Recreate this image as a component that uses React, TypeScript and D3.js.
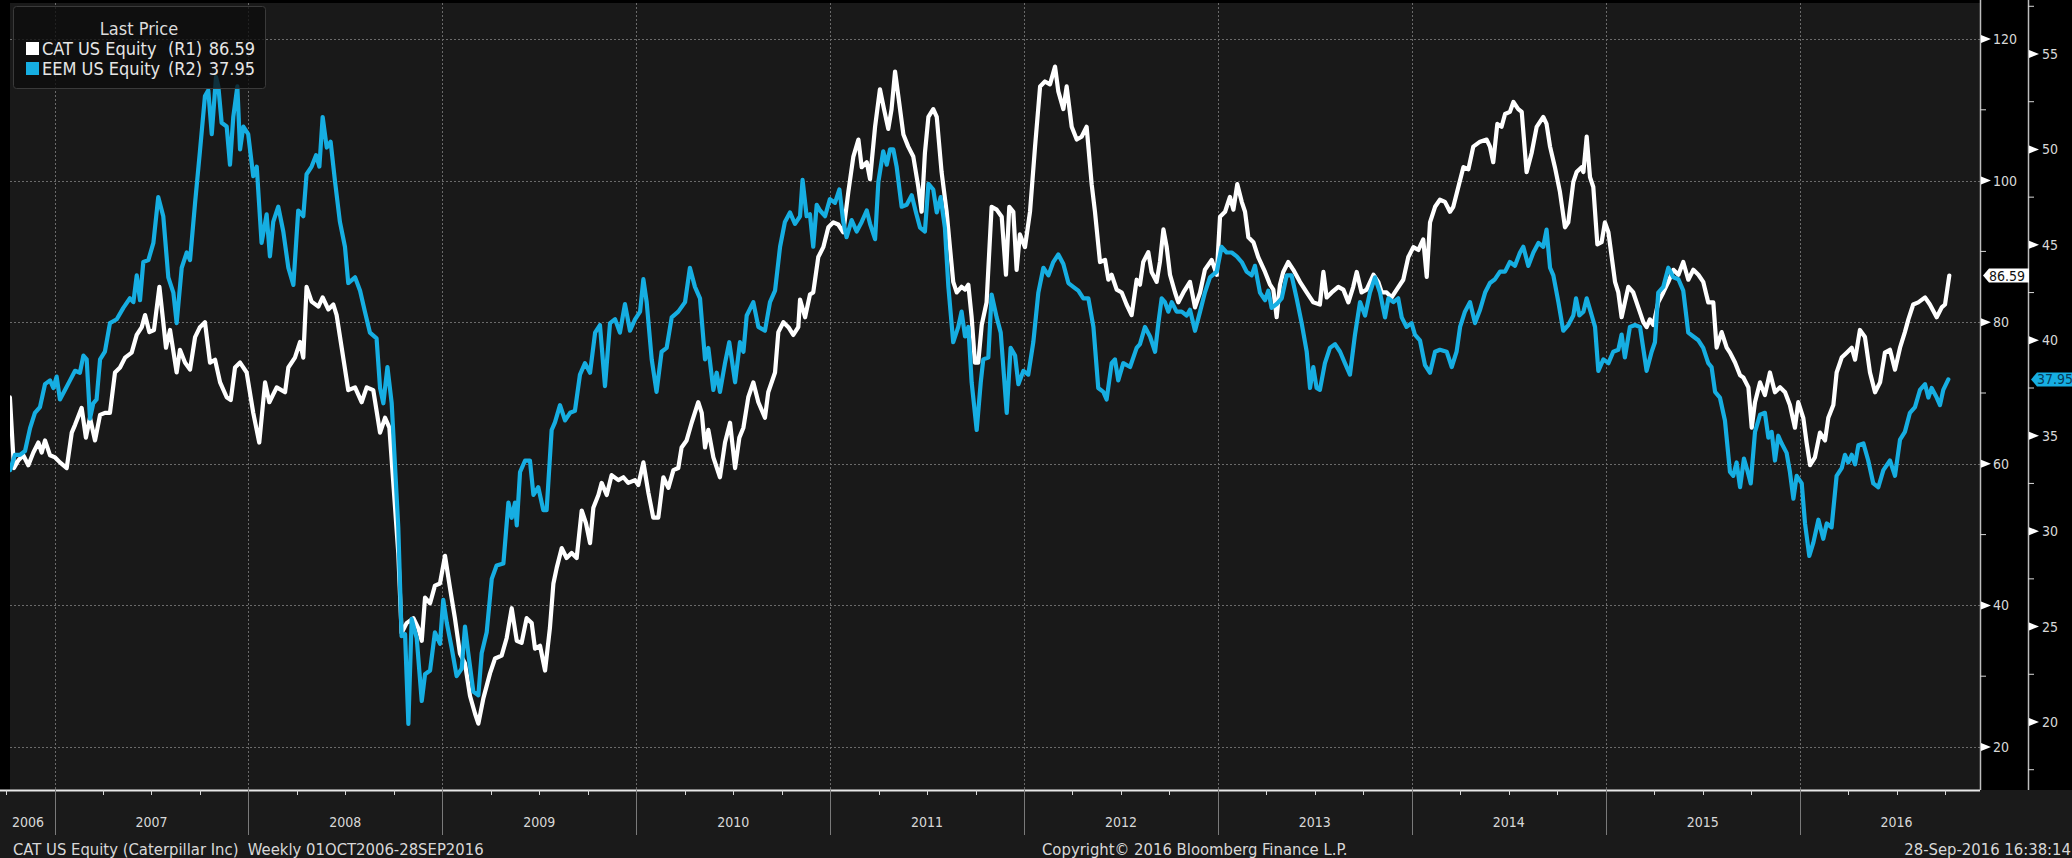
import React, { useEffect, useRef } from "react";
import * as d3 from "d3";

// weekly closes, [decimal year, price]
const catSeries: [number, number][] = [
  [2006.770, 69.4], [2006.791, 59.4], [2006.814, 60.5], [2006.839, 61.2], [2006.865, 59.8], [2006.891, 61.6],
  [2006.917, 63.0], [2006.934, 61.6], [2006.951, 63.3], [2006.977, 61.2], [2007.003, 60.9], [2007.028, 60.2],
  [2007.063, 59.4], [2007.089, 64.4], [2007.106, 65.5], [2007.140, 67.9], [2007.162, 63.7], [2007.183, 66.5],
  [2007.209, 63.3], [2007.235, 66.9], [2007.260, 67.2], [2007.286, 67.2], [2007.312, 72.9], [2007.338, 73.6],
  [2007.364, 75.0], [2007.398, 75.7], [2007.424, 78.2], [2007.450, 79.3], [2007.467, 81.0], [2007.489, 78.6],
  [2007.513, 78.9], [2007.541, 85.0], [2007.561, 80.0], [2007.575, 76.4], [2007.596, 78.9], [2007.630, 72.9],
  [2007.647, 76.1], [2007.673, 74.3], [2007.699, 73.3], [2007.725, 77.9], [2007.750, 79.3], [2007.776, 80.0],
  [2007.802, 74.3], [2007.828, 74.7], [2007.854, 71.5], [2007.888, 69.4], [2007.909, 69.0], [2007.931, 73.6],
  [2007.957, 74.3], [2007.991, 72.9], [2008.025, 67.2], [2008.056, 63.0], [2008.086, 71.5], [2008.108, 68.7],
  [2008.146, 70.8], [2008.189, 70.1], [2008.206, 73.6], [2008.240, 75.0], [2008.266, 77.2], [2008.283, 75.0],
  [2008.300, 85.0], [2008.326, 82.9], [2008.361, 82.2], [2008.383, 83.5], [2008.412, 81.8], [2008.438, 82.5],
  [2008.455, 81.0], [2008.481, 76.4], [2008.515, 70.4], [2008.550, 70.8], [2008.584, 68.7], [2008.610, 70.8],
  [2008.644, 70.4], [2008.679, 64.4], [2008.705, 66.5], [2008.727, 65.1], [2008.773, 47.4], [2008.790, 36.1],
  [2008.816, 37.5], [2008.851, 38.2], [2008.876, 36.8], [2008.894, 35.0], [2008.911, 41.1], [2008.937, 40.3],
  [2008.962, 42.8], [2008.988, 43.1], [2009.014, 47.0], [2009.040, 42.4], [2009.065, 38.2], [2009.091, 33.2],
  [2009.117, 31.8], [2009.143, 27.2], [2009.169, 24.7], [2009.186, 23.3], [2009.212, 26.9], [2009.246, 30.4],
  [2009.272, 32.5], [2009.306, 32.9], [2009.332, 35.4], [2009.358, 39.6], [2009.384, 35.0], [2009.409, 34.7],
  [2009.435, 38.2], [2009.461, 37.5], [2009.478, 33.9], [2009.504, 34.3], [2009.530, 30.8], [2009.555, 36.8],
  [2009.573, 43.1], [2009.590, 45.3], [2009.616, 48.1], [2009.641, 46.7], [2009.667, 47.4], [2009.693, 46.7],
  [2009.719, 53.4], [2009.741, 51.6], [2009.762, 48.8], [2009.779, 53.8], [2009.805, 55.6], [2009.822, 57.3],
  [2009.848, 55.6], [2009.873, 58.4], [2009.908, 57.7], [2009.934, 58.1], [2009.959, 57.3], [2009.994, 57.7],
  [2010.011, 57.0], [2010.037, 60.2], [2010.063, 55.9], [2010.088, 52.4], [2010.114, 52.4], [2010.140, 58.1],
  [2010.166, 56.6], [2010.192, 59.1], [2010.217, 59.4], [2010.234, 62.3], [2010.260, 63.3], [2010.286, 65.8],
  [2010.320, 68.7], [2010.338, 67.2], [2010.355, 62.3], [2010.372, 64.8], [2010.398, 60.9], [2010.432, 58.1],
  [2010.458, 63.0], [2010.484, 65.8], [2010.510, 59.4], [2010.532, 63.7], [2010.553, 65.1], [2010.578, 69.4],
  [2010.604, 71.5], [2010.630, 68.7], [2010.664, 66.5], [2010.681, 70.1], [2010.716, 72.9], [2010.733, 78.6],
  [2010.759, 80.0], [2010.785, 79.3], [2010.810, 78.2], [2010.836, 79.3], [2010.845, 83.2], [2010.871, 80.7],
  [2010.896, 83.9], [2010.913, 84.2], [2010.939, 89.2], [2010.965, 90.6], [2010.991, 93.4], [2011.017, 94.1],
  [2011.042, 93.8], [2011.068, 92.7], [2011.094, 98.4], [2011.120, 103.4], [2011.146, 105.8], [2011.163, 101.9],
  [2011.189, 102.6], [2011.206, 100.2], [2011.232, 107.6], [2011.257, 112.9], [2011.278, 110.1], [2011.300, 107.3],
  [2011.317, 110.1], [2011.335, 115.4], [2011.352, 111.9], [2011.378, 106.5], [2011.403, 104.8], [2011.429, 103.4],
  [2011.455, 99.1], [2011.472, 95.6], [2011.489, 103.9], [2011.507, 109.0], [2011.532, 110.1], [2011.550, 109.0],
  [2011.575, 101.2], [2011.601, 95.6], [2011.618, 90.6], [2011.635, 85.7], [2011.653, 84.2], [2011.678, 85.0],
  [2011.696, 84.6], [2011.713, 85.3], [2011.730, 80.7], [2011.747, 74.3], [2011.764, 74.3], [2011.782, 79.6],
  [2011.807, 82.8], [2011.833, 96.3], [2011.859, 95.9], [2011.885, 94.9], [2011.907, 86.7], [2011.924, 96.3],
  [2011.945, 95.6], [2011.962, 87.4], [2011.979, 92.4], [2012.005, 90.6], [2012.031, 95.6], [2012.057, 104.8],
  [2012.083, 113.3], [2012.108, 114.0], [2012.134, 113.6], [2012.160, 116.1], [2012.177, 112.6], [2012.203, 110.1],
  [2012.220, 113.3], [2012.246, 107.6], [2012.272, 105.8], [2012.297, 106.2], [2012.323, 107.6], [2012.349, 99.5],
  [2012.366, 95.6], [2012.392, 88.5], [2012.418, 88.8], [2012.435, 86.0], [2012.452, 86.7], [2012.478, 84.6],
  [2012.504, 84.2], [2012.529, 82.5], [2012.555, 81.0], [2012.581, 86.0], [2012.598, 85.3], [2012.615, 88.5],
  [2012.641, 89.9], [2012.658, 87.1], [2012.684, 85.7], [2012.701, 88.5], [2012.719, 93.1], [2012.736, 90.6],
  [2012.753, 86.7], [2012.779, 84.2], [2012.796, 82.8], [2012.822, 84.2], [2012.856, 85.7], [2012.882, 82.1],
  [2012.908, 84.2], [2012.933, 87.4], [2012.968, 88.8], [2012.994, 86.7], [2013.011, 94.9], [2013.037, 95.6],
  [2013.062, 97.7], [2013.080, 95.9], [2013.100, 99.5], [2013.123, 97.0], [2013.140, 95.6], [2013.157, 92.0],
  [2013.183, 91.3], [2013.208, 89.2], [2013.243, 87.1], [2013.269, 85.3], [2013.286, 84.6], [2013.303, 80.7],
  [2013.320, 85.3], [2013.337, 87.1], [2013.363, 88.5], [2013.389, 87.4], [2013.423, 85.7], [2013.458, 84.2],
  [2013.492, 82.8], [2013.526, 82.5], [2013.544, 87.1], [2013.561, 83.5], [2013.587, 84.2], [2013.621, 85.0],
  [2013.647, 84.6], [2013.673, 82.8], [2013.698, 85.0], [2013.716, 87.1], [2013.741, 84.2], [2013.767, 84.6],
  [2013.802, 86.7], [2013.827, 85.7], [2013.845, 84.2], [2013.870, 84.2], [2013.896, 83.5], [2013.922, 84.6],
  [2013.956, 86.0], [2013.982, 89.2], [2014.008, 90.6], [2014.034, 90.2], [2014.059, 91.7], [2014.077, 86.4],
  [2014.094, 94.1], [2014.120, 96.3], [2014.145, 97.3], [2014.171, 97.0], [2014.197, 95.6], [2014.214, 96.3],
  [2014.240, 99.1], [2014.266, 101.9], [2014.292, 101.6], [2014.317, 104.8], [2014.352, 105.5], [2014.386, 105.8],
  [2014.403, 104.8], [2014.420, 102.6], [2014.441, 108.0], [2014.463, 107.6], [2014.481, 109.4], [2014.506, 109.7],
  [2014.524, 111.1], [2014.549, 110.1], [2014.567, 109.7], [2014.592, 101.2], [2014.618, 103.9], [2014.644, 107.6],
  [2014.661, 108.3], [2014.678, 109.0], [2014.695, 108.0], [2014.713, 104.8], [2014.738, 101.9], [2014.764, 98.4],
  [2014.790, 93.4], [2014.807, 94.1], [2014.833, 99.8], [2014.850, 101.2], [2014.876, 101.9], [2014.885, 101.2],
  [2014.902, 106.2], [2014.919, 100.5], [2014.936, 99.1], [2014.957, 91.0], [2014.979, 91.3], [2014.996, 94.1],
  [2015.014, 92.7], [2015.031, 89.2], [2015.048, 85.7], [2015.065, 84.2], [2015.082, 80.7], [2015.099, 82.8],
  [2015.117, 85.0], [2015.142, 84.2], [2015.168, 82.1], [2015.194, 80.0], [2015.211, 79.3], [2015.228, 80.4],
  [2015.246, 79.6], [2015.271, 82.8], [2015.297, 84.2], [2015.323, 85.7], [2015.349, 87.4], [2015.375, 86.7],
  [2015.400, 88.5], [2015.426, 86.0], [2015.452, 87.4], [2015.478, 86.7], [2015.503, 85.7], [2015.529, 82.8],
  [2015.555, 82.8], [2015.572, 76.4], [2015.598, 78.6], [2015.624, 76.4], [2015.641, 75.7], [2015.667, 74.3],
  [2015.693, 72.5], [2015.710, 72.2], [2015.736, 70.8], [2015.753, 65.1], [2015.770, 68.7], [2015.796, 71.5],
  [2015.821, 69.7], [2015.847, 72.9], [2015.873, 70.1], [2015.899, 70.8], [2015.925, 70.1], [2015.950, 68.3],
  [2015.976, 65.1], [2015.993, 68.7], [2016.019, 66.5], [2016.036, 63.0], [2016.054, 59.8], [2016.079, 60.9],
  [2016.105, 64.4], [2016.131, 63.3], [2016.148, 66.5], [2016.174, 68.3], [2016.191, 72.9], [2016.217, 75.0],
  [2016.243, 75.7], [2016.269, 76.4], [2016.286, 74.7], [2016.311, 78.9], [2016.337, 77.9], [2016.363, 72.9],
  [2016.389, 70.1], [2016.415, 71.5], [2016.440, 75.7], [2016.466, 76.1], [2016.492, 73.3], [2016.518, 76.4],
  [2016.543, 78.6], [2016.561, 80.4], [2016.586, 82.5], [2016.612, 82.8], [2016.647, 83.5], [2016.672, 82.5],
  [2016.707, 80.7], [2016.733, 82.1], [2016.750, 82.5], [2016.772, 86.59],
];

const eemSeries: [number, number][] = [
  [2006.771, 33.2], [2006.796, 34.0], [2006.822, 34.0], [2006.848, 34.2], [2006.874, 35.4], [2006.899, 36.2],
  [2006.925, 36.5], [2006.951, 37.7], [2006.977, 37.9], [2006.994, 37.5], [2007.011, 38.1], [2007.028, 36.9],
  [2007.054, 37.4], [2007.080, 37.9], [2007.106, 38.4], [2007.131, 38.3], [2007.149, 39.2], [2007.166, 39.0],
  [2007.183, 35.9], [2007.200, 36.7], [2007.217, 36.9], [2007.235, 39.0], [2007.260, 39.4], [2007.286, 40.9],
  [2007.321, 41.1], [2007.355, 41.7], [2007.389, 42.2], [2007.407, 42.0], [2007.424, 43.4], [2007.441, 42.1],
  [2007.458, 44.1], [2007.484, 44.2], [2007.510, 45.1], [2007.535, 47.5], [2007.561, 46.5], [2007.587, 43.3],
  [2007.613, 42.5], [2007.630, 40.9], [2007.656, 43.8], [2007.682, 44.6], [2007.699, 44.2], [2007.725, 47.2],
  [2007.750, 49.9], [2007.776, 52.8], [2007.793, 53.1], [2007.811, 50.8], [2007.833, 53.8], [2007.845, 53.3],
  [2007.862, 51.4], [2007.888, 51.2], [2007.905, 49.2], [2007.922, 51.7], [2007.943, 53.3], [2007.957, 50.0],
  [2007.974, 51.2], [2007.999, 50.8], [2008.025, 48.6], [2008.043, 49.1], [2008.068, 45.1], [2008.094, 46.6],
  [2008.111, 44.4], [2008.128, 46.2], [2008.154, 47.0], [2008.180, 45.7], [2008.206, 43.8], [2008.232, 42.9],
  [2008.257, 46.8], [2008.283, 46.5], [2008.300, 48.7], [2008.326, 49.1], [2008.349, 49.7], [2008.366, 49.1],
  [2008.383, 51.7], [2008.404, 50.1], [2008.424, 50.4], [2008.447, 48.3], [2008.472, 46.2], [2008.498, 44.9],
  [2008.515, 43.0], [2008.550, 43.3], [2008.576, 42.6], [2008.601, 41.5], [2008.627, 40.4], [2008.661, 40.1],
  [2008.679, 37.5], [2008.696, 36.7], [2008.717, 38.6], [2008.739, 36.7], [2008.773, 30.2], [2008.790, 24.5],
  [2008.808, 24.6], [2008.825, 19.9], [2008.842, 25.4], [2008.868, 24.4], [2008.894, 21.1], [2008.911, 22.5],
  [2008.937, 22.7], [2008.962, 24.7], [2008.988, 24.1], [2009.005, 26.4], [2009.023, 25.2], [2009.048, 23.9],
  [2009.074, 22.4], [2009.100, 22.8], [2009.117, 25.0], [2009.134, 23.6], [2009.160, 21.6], [2009.186, 21.4],
  [2009.203, 23.6], [2009.229, 24.7], [2009.255, 27.5], [2009.280, 28.2], [2009.315, 28.3], [2009.341, 31.5],
  [2009.358, 30.7], [2009.375, 31.5], [2009.384, 30.3], [2009.401, 33.1], [2009.427, 33.7], [2009.452, 33.7],
  [2009.470, 31.9], [2009.495, 32.3], [2009.521, 31.1], [2009.538, 31.1], [2009.564, 35.3], [2009.581, 35.7],
  [2009.607, 36.6], [2009.633, 35.8], [2009.659, 36.2], [2009.684, 36.3], [2009.710, 38.2], [2009.736, 38.8],
  [2009.762, 38.3], [2009.788, 40.4], [2009.813, 40.8], [2009.839, 37.6], [2009.865, 40.9], [2009.891, 41.1],
  [2009.916, 40.4], [2009.942, 41.9], [2009.968, 40.5], [2009.994, 41.1], [2010.020, 41.5], [2010.037, 43.2],
  [2010.054, 42.0], [2010.080, 39.0], [2010.105, 37.3], [2010.131, 39.4], [2010.157, 39.6], [2010.183, 41.2],
  [2010.217, 41.5], [2010.252, 42.0], [2010.277, 43.8], [2010.303, 42.8], [2010.329, 42.2], [2010.355, 39.0],
  [2010.372, 39.6], [2010.398, 37.4], [2010.415, 38.3], [2010.432, 37.3], [2010.458, 38.8], [2010.480, 39.9],
  [2010.510, 37.8], [2010.535, 39.9], [2010.553, 39.4], [2010.570, 41.3], [2010.604, 42.0], [2010.630, 40.7],
  [2010.664, 40.5], [2010.690, 42.0], [2010.716, 42.6], [2010.742, 44.9], [2010.767, 46.2], [2010.793, 46.7],
  [2010.819, 46.1], [2010.845, 46.5], [2010.858, 48.4], [2010.879, 46.5], [2010.896, 46.6], [2010.913, 44.9],
  [2010.931, 47.1], [2010.948, 46.8], [2010.974, 46.5], [2010.999, 47.4], [2011.025, 47.2], [2011.048, 47.9],
  [2011.068, 46.2], [2011.085, 45.4], [2011.111, 46.3], [2011.137, 45.7], [2011.163, 46.2], [2011.189, 46.8],
  [2011.206, 46.1], [2011.232, 45.3], [2011.249, 48.3], [2011.274, 49.9], [2011.292, 49.2], [2011.309, 50.0],
  [2011.326, 50.0], [2011.343, 49.1], [2011.369, 47.0], [2011.395, 47.1], [2011.421, 47.6], [2011.443, 46.7],
  [2011.464, 45.9], [2011.489, 45.7], [2011.507, 48.2], [2011.532, 47.9], [2011.550, 46.7], [2011.570, 47.5],
  [2011.592, 45.9], [2011.610, 42.8], [2011.635, 39.9], [2011.661, 40.7], [2011.678, 41.5], [2011.696, 40.2],
  [2011.713, 40.7], [2011.730, 37.8], [2011.756, 35.3], [2011.777, 37.8], [2011.790, 39.0], [2011.816, 39.1],
  [2011.833, 42.4], [2011.859, 41.2], [2011.880, 40.4], [2011.911, 36.2], [2011.931, 39.6], [2011.954, 39.2],
  [2011.971, 37.7], [2011.997, 38.4], [2012.022, 38.2], [2012.048, 39.9], [2012.074, 42.5], [2012.100, 43.8],
  [2012.126, 43.4], [2012.151, 44.1], [2012.177, 44.5], [2012.203, 44.0], [2012.229, 43.0], [2012.254, 42.8],
  [2012.280, 42.6], [2012.306, 42.2], [2012.332, 42.2], [2012.358, 40.7], [2012.383, 37.5], [2012.409, 37.3],
  [2012.426, 36.9], [2012.452, 38.8], [2012.469, 39.0], [2012.486, 37.9], [2012.512, 38.8], [2012.547, 38.6],
  [2012.581, 39.6], [2012.598, 39.8], [2012.624, 40.7], [2012.650, 40.2], [2012.676, 39.4], [2012.693, 40.9],
  [2012.710, 42.2], [2012.727, 42.0], [2012.744, 41.5], [2012.762, 42.0], [2012.787, 41.5], [2012.813, 41.5],
  [2012.839, 41.3], [2012.856, 41.6], [2012.882, 40.5], [2012.908, 41.5], [2012.933, 42.5], [2012.959, 43.3],
  [2012.994, 43.6], [2013.019, 44.9], [2013.045, 44.6], [2013.071, 44.6], [2013.097, 44.4], [2013.123, 44.1],
  [2013.148, 43.6], [2013.174, 43.4], [2013.191, 43.9], [2013.217, 42.5], [2013.243, 42.1], [2013.260, 42.6],
  [2013.277, 41.7], [2013.303, 41.9], [2013.329, 42.2], [2013.355, 43.4], [2013.380, 43.4], [2013.406, 42.2],
  [2013.432, 40.9], [2013.458, 39.4], [2013.475, 37.5], [2013.492, 38.6], [2013.509, 37.5], [2013.526, 37.4],
  [2013.552, 38.8], [2013.578, 39.6], [2013.604, 39.8], [2013.630, 39.4], [2013.655, 38.8], [2013.681, 38.2],
  [2013.707, 40.3], [2013.733, 42.0], [2013.759, 41.3], [2013.784, 42.5], [2013.810, 43.3], [2013.836, 42.5],
  [2013.862, 41.2], [2013.879, 42.2], [2013.905, 42.0], [2013.930, 42.2], [2013.948, 41.2], [2013.973, 40.7],
  [2013.999, 40.9], [2014.016, 40.3], [2014.042, 40.0], [2014.068, 38.7], [2014.094, 38.3], [2014.120, 39.4],
  [2014.145, 39.5], [2014.180, 39.4], [2014.206, 38.6], [2014.231, 39.4], [2014.249, 40.7], [2014.274, 41.5],
  [2014.300, 42.0], [2014.326, 40.9], [2014.352, 41.6], [2014.378, 42.5], [2014.403, 43.0], [2014.429, 43.2],
  [2014.455, 43.6], [2014.481, 43.6], [2014.506, 44.1], [2014.532, 43.9], [2014.558, 44.6], [2014.575, 44.9],
  [2014.601, 43.9], [2014.627, 44.6], [2014.653, 45.1], [2014.678, 44.9], [2014.695, 45.8], [2014.713, 43.8],
  [2014.730, 43.4], [2014.756, 42.0], [2014.781, 40.5], [2014.807, 40.8], [2014.833, 41.3], [2014.847, 42.2],
  [2014.864, 41.3], [2014.885, 41.5], [2014.902, 42.2], [2014.928, 41.3], [2014.945, 40.7], [2014.962, 38.4],
  [2014.988, 39.0], [2015.014, 38.8], [2015.039, 39.4], [2015.065, 39.5], [2015.082, 40.3], [2015.099, 39.1],
  [2015.125, 40.7], [2015.151, 40.8], [2015.177, 40.7], [2015.211, 38.4], [2015.237, 39.4], [2015.254, 39.9],
  [2015.271, 42.5], [2015.297, 42.8], [2015.323, 43.8], [2015.349, 43.3], [2015.375, 43.2], [2015.400, 42.6],
  [2015.426, 40.4], [2015.452, 40.2], [2015.478, 40.0], [2015.503, 39.6], [2015.529, 38.8], [2015.546, 38.6],
  [2015.564, 37.3], [2015.589, 37.0], [2015.615, 35.8], [2015.641, 33.1], [2015.658, 32.9], [2015.675, 33.6],
  [2015.693, 32.3], [2015.713, 33.8], [2015.730, 33.2], [2015.748, 32.5], [2015.770, 35.2], [2015.796, 36.1],
  [2015.821, 36.2], [2015.839, 34.9], [2015.856, 35.2], [2015.873, 33.7], [2015.890, 35.0], [2015.907, 34.6],
  [2015.933, 34.1], [2015.950, 33.1], [2015.968, 31.7], [2015.985, 32.9], [2016.011, 32.5], [2016.028, 30.4],
  [2016.050, 28.7], [2016.071, 29.4], [2016.097, 30.6], [2016.122, 29.6], [2016.140, 30.4], [2016.165, 30.2],
  [2016.191, 32.9], [2016.217, 33.3], [2016.234, 34.0], [2016.251, 33.6], [2016.269, 34.0], [2016.286, 33.5],
  [2016.303, 34.5], [2016.329, 34.6], [2016.354, 33.7], [2016.380, 32.5], [2016.406, 32.3], [2016.432, 33.2],
  [2016.466, 33.7], [2016.492, 32.9], [2016.518, 34.8], [2016.543, 35.2], [2016.569, 36.2], [2016.595, 36.5],
  [2016.621, 37.4], [2016.647, 37.7], [2016.664, 37.0], [2016.681, 37.5], [2016.707, 37.0], [2016.724, 36.6],
  [2016.741, 37.4], [2016.767, 37.95],
];

const years = [2006, 2007, 2008, 2009, 2010, 2011, 2012, 2013, 2014, 2015, 2016];
const r1Ticks = [20, 40, 60, 80, 100, 120];
const r1Minor = [30, 50, 70, 90, 110];
const r2Ticks = [20, 25, 30, 35, 40, 45, 50, 55];
const r2Minor = [17.5, 22.5, 27.5, 32.5, 37.5, 42.5, 47.5, 52.5, 57.5];

const legendTitle = "Last Price";
const legendRows = [
  { name: "CAT US Equity", axis: "(R1)", last: "86.59", color: "#ffffff" },
  { name: "EEM US Equity", axis: "(R2)", last: "37.95", color: "#16aee2" },
];
const footerLeft = "CAT US Equity (Caterpillar Inc)  Weekly 01OCT2006-28SEP2016";
const footerMid = "Copyright\u00a9 2016 Bloomberg Finance L.P.";
const footerRight = "28-Sep-2016 16:38:14";

const FONT = "'DejaVu Sans Condensed', 'DejaVu Sans', sans-serif";
const CYAN = "#16aee2";

export default function App() {
  const ref = useRef<SVGSVGElement>(null);

  useEffect(() => {
    const width = 2072, height = 858;
    const left = 10, right = 1980, top = 3, bottom = 790;
    const r2x = 2028;

    const svg = d3.select(ref.current);
    svg.selectAll("*").remove();

    // x is in decimal years
    const x = d3.scaleLinear().domain([2007, 2016]).range([54.5, 1799.6]);
    const y1 = d3.scaleLinear().domain([20, 120]).range([747, 39]);
    const y2 = d3.scaleLinear().domain([20, 55]).range([722, 54]);

    // backgrounds
    svg.append("rect").attr("width", width).attr("height", height).attr("fill", "#000");
    svg.append("rect").attr("x", 0).attr("y", bottom).attr("width", width).attr("height", height - bottom).attr("fill", "#1a1a1a");
    svg.append("rect").attr("x", left).attr("y", top).attr("width", right - left).attr("height", bottom - top).attr("fill", "#191919");

    // grid
    const grid = svg.append("g").attr("stroke", "#6a6a6a").attr("stroke-width", 1).attr("stroke-dasharray", "2,2");
    grid.selectAll("line.h").data(r1Ticks).join("line")
      .attr("x1", left).attr("x2", right)
      .attr("y1", d => Math.round(y1(d)) + 0.5).attr("y2", d => Math.round(y1(d)) + 0.5);
    grid.selectAll("line.v").data(years.slice(1)).join("line")
      .attr("x1", d => Math.round(x(d)) + 0.5).attr("x2", d => Math.round(x(d)) + 0.5)
      .attr("y1", top).attr("y2", bottom);

    // lines
    svg.append("clipPath").attr("id", "plot-clip")
      .append("rect").attr("x", left).attr("y", top).attr("width", right - left).attr("height", bottom - top);

    const catLine = d3.line<[number, number]>().x(d => x(d[0])).y(d => y1(d[1]));
    const eemLine = d3.line<[number, number]>().x(d => x(d[0])).y(d => y2(d[1]));

    const lines = svg.append("g").attr("clip-path", "url(#plot-clip)")
      .attr("fill", "none").attr("stroke-width", 4.2)
      .attr("stroke-linejoin", "round").attr("stroke-linecap", "round");
    lines.append("path").datum(catSeries).attr("stroke", "#ffffff").attr("d", catLine);
    lines.append("path").datum(eemSeries).attr("stroke", CYAN).attr("d", eemLine);

    // bottom axis
    svg.append("line").attr("x1", 0).attr("x2", right).attr("y1", bottom + 0.5).attr("y2", bottom + 0.5)
      .attr("stroke", "#e8e8e8").attr("stroke-width", 2);
    const quarters = d3.range(2006.75, 2016.8, 0.25).filter(q => q % 1 !== 0);
    svg.append("g").selectAll("line").data(quarters).join("line")
      .attr("x1", d => Math.round(x(d)) + 0.5).attr("x2", d => Math.round(x(d)) + 0.5)
      .attr("y1", bottom).attr("y2", bottom + 5)
      .attr("stroke", "#d8d8d8").attr("stroke-width", 1);
    svg.append("g").selectAll("line").data(years.slice(1)).join("line")
      .attr("x1", d => Math.round(x(d)) + 0.5).attr("x2", d => Math.round(x(d)) + 0.5)
      .attr("y1", bottom).attr("y2", bottom + 45)
      .attr("stroke", "#7a7a7a").attr("stroke-width", 1);
    svg.append("g").selectAll("text").data(years).join("text")
      .attr("x", d => (d === 2006 ? 28 : x(d + 0.5)))
      .attr("y", 827)
      .attr("text-anchor", "middle")
      .attr("font-family", FONT).attr("font-size", 14).attr("fill", "#d8d8d8")
      .text(d => d);

    // right axes
    const axes = svg.append("g");
    axes.append("line").attr("x1", right + 0.5).attr("x2", right + 0.5).attr("y1", 0).attr("y2", bottom)
      .attr("stroke", "#bdbdbd").attr("stroke-width", 1.5);
    axes.append("line").attr("x1", r2x + 0.5).attr("x2", r2x + 0.5).attr("y1", 0).attr("y2", bottom)
      .attr("stroke", "#bdbdbd").attr("stroke-width", 1.5);

    axes.selectAll("path.r1").data(r1Ticks).join("path")
      .attr("d", d => `M${right + 1},${y1(d) - 4}L${right + 11},${y1(d)}L${right + 1},${y1(d) + 4}Z`)
      .attr("fill", "#fff");
    axes.selectAll("text.r1").data(r1Ticks).join("text")
      .attr("x", right + 13).attr("y", d => y1(d) + 5)
      .attr("font-family", FONT).attr("font-size", 14).attr("fill", "#d8d8d8")
      .text(d => d);
    axes.selectAll("line.r1m").data(r1Minor).join("line")
      .attr("x1", right).attr("x2", right + 6).attr("y1", d => y1(d)).attr("y2", d => y1(d))
      .attr("stroke", "#d8d8d8");

    axes.selectAll("path.r2").data(r2Ticks).join("path")
      .attr("d", d => `M${r2x + 1},${y2(d) - 4}L${r2x + 11},${y2(d)}L${r2x + 1},${y2(d) + 4}Z`)
      .attr("fill", "#fff");
    axes.selectAll("text.r2").data(r2Ticks).join("text")
      .attr("x", r2x + 14).attr("y", d => y2(d) + 5)
      .attr("font-family", FONT).attr("font-size", 14).attr("fill", "#d8d8d8")
      .text(d => d);
    axes.selectAll("line.r2m").data(r2Minor.filter(d => y2(d) > 2 && y2(d) < bottom)).join("line")
      .attr("x1", r2x).attr("x2", r2x + 6).attr("y1", d => y2(d)).attr("y2", d => y2(d))
      .attr("stroke", "#d8d8d8");

    // last value tags
    const catLast = catSeries[catSeries.length - 1][1];
    const eemLast = eemSeries[eemSeries.length - 1][1];
    const tag = (x0: number, x1: number, yc: number, fill: string, textFill: string, label: string) => {
      const h = 7;
      svg.append("path")
        .attr("d", `M${x0},${yc}L${x0 + 6},${yc - h}L${x1},${yc - h}L${x1},${yc + h}L${x0 + 6},${yc + h}Z`)
        .attr("fill", fill);
      svg.append("text").attr("x", x0 + 6).attr("y", yc + 5)
        .attr("font-family", FONT).attr("font-size", 14).attr("fill", textFill)
        .text(label);
    };
    tag(right + 3, r2x + 1, y1(catLast), "#ffffff", "#111", catLast.toFixed(2));
    tag(r2x + 3, width, y2(eemLast), CYAN, "#083a58", eemLast.toFixed(2));

    // legend
    const lg = svg.append("g").attr("font-family", FONT).attr("font-size", 18);
    lg.append("rect").attr("x", 13.5).attr("y", 6.5).attr("width", 252).attr("height", 82).attr("rx", 3)
      .attr("fill", "#0d0d0d").attr("fill-opacity", 0.78).attr("stroke", "#3a3a3a");
    lg.append("text").attr("x", 139).attr("y", 35).attr("text-anchor", "middle")
      .attr("fill", "#dcdcdc").text(legendTitle);
    legendRows.forEach((r, i) => {
      const yb = 55 + i * 20;
      lg.append("rect").attr("x", 26).attr("y", yb - 13).attr("width", 13).attr("height", 13).attr("fill", r.color);
      lg.append("text").attr("x", 42).attr("y", yb).attr("fill", "#e6e6e6").text(r.name);
      lg.append("text").attr("x", 168).attr("y", yb).attr("fill", "#e6e6e6").text(r.axis);
      lg.append("text").attr("x", 255).attr("y", yb).attr("text-anchor", "end").attr("fill", "#e6e6e6").text(r.last);
    });

    // footer
    const foot = svg.append("g").attr("font-family", FONT).attr("font-size", 16.5).attr("fill", "#d8d8d8");
    foot.append("text").attr("x", 13).attr("y", 855).style("white-space", "pre").text(footerLeft);
    foot.append("text").attr("x", 1042).attr("y", 855).text(footerMid);
    foot.append("text").attr("x", width - 1).attr("y", 855).attr("text-anchor", "end").text(footerRight);
  }, []);

  return (
    <div style={{ position: "fixed", left: 0, top: 0 }}>
      <svg ref={ref} width={2072} height={858} style={{ display: "block" }} />
    </div>
  );
}
